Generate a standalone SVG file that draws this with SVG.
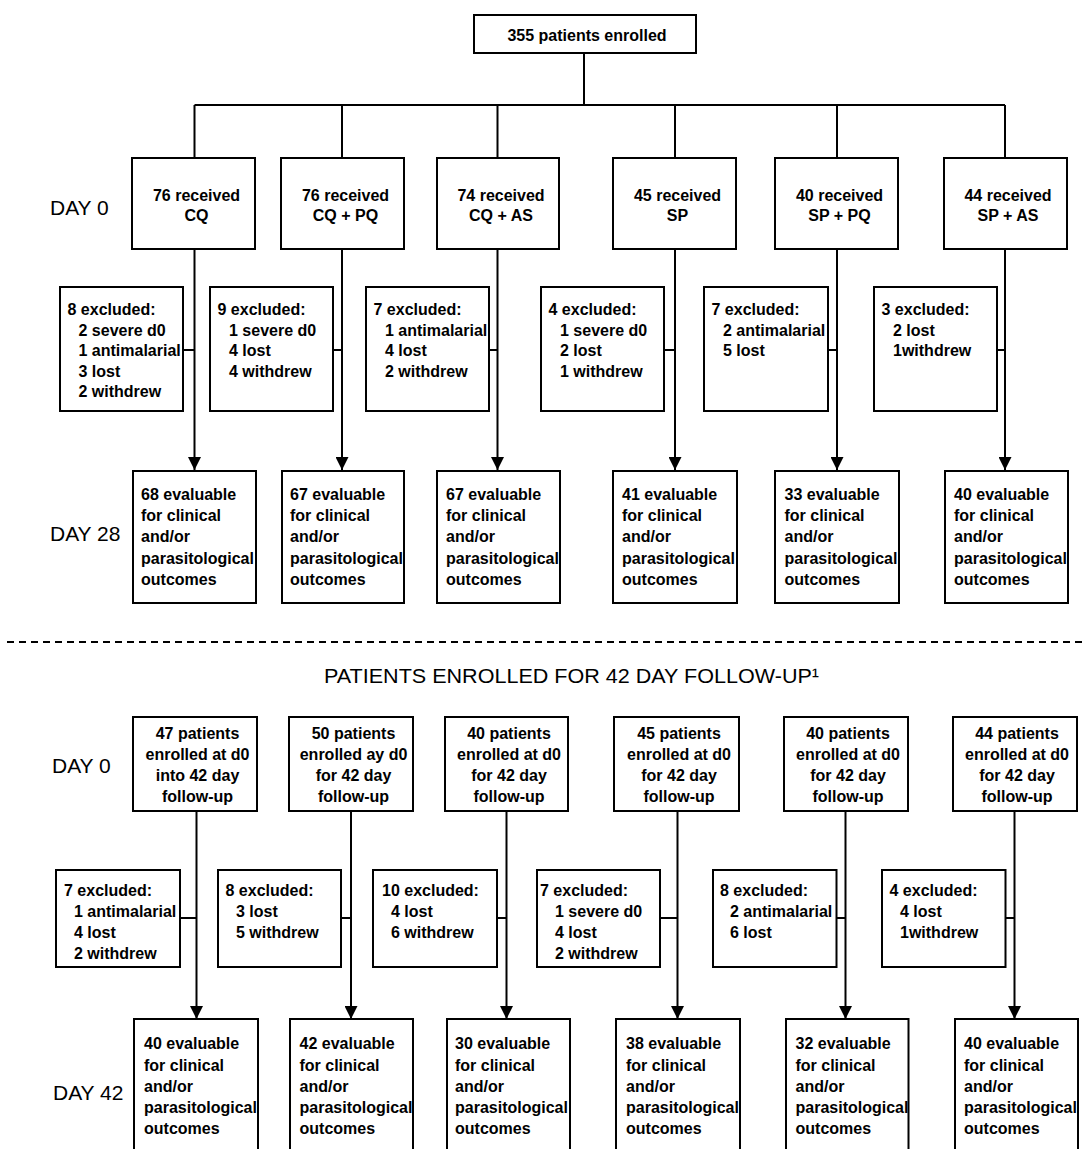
<svg xmlns="http://www.w3.org/2000/svg" width="1082" height="1149" viewBox="0 0 1082 1149">
<style>
.bg{fill:#ffffff}
.box{fill:#ffffff;stroke:#000000;stroke-width:2}
.ln{fill:none;stroke:#000000;stroke-width:2}
.arr{fill:none;stroke:#000000;stroke-width:2;marker-end:url(#ah)}
.dash{fill:none;stroke:#000000;stroke-width:2;stroke-dasharray:7 5}
.t{font-family:"Liberation Sans",Arial,sans-serif;font-size:16px;font-weight:bold;fill:#000000}
.c{text-anchor:middle}
.day{font-family:"Liberation Sans",Arial,sans-serif;font-size:21px;fill:#000000}
</style>
<defs>
<marker id="ah" markerUnits="userSpaceOnUse" markerWidth="13" markerHeight="13" refX="13" refY="6.5" orient="auto">
<path d="M0,0 L13,6.5 L0,13 Z" fill="#000000"/>
</marker>
</defs>
<rect class="bg" x="0" y="0" width="1082" height="1149"/>

<g id="connectors">
<path class="ln" d="M584,53 V105 M194.5,105 H1005 M194.5,105 V158 M342,105 V158 M497.5,105 V158 M675,105 V158 M837,105 V158 M1005,105 V158"/>
<path class="arr" d="M194.5,249 V470"/>
<path class="arr" d="M342,249 V470"/>
<path class="arr" d="M497.5,249 V470"/>
<path class="arr" d="M675,249 V470"/>
<path class="arr" d="M837,249 V470"/>
<path class="arr" d="M1005,249 V470"/>
<path class="ln" d="M183,350 H194.5 M333,350 H342 M489,350 H497.5 M664,350 H675 M828,350 H837 M997,350 H1005"/>
<path class="dash" d="M7,642 H1082"/>
<path class="arr" d="M196.5,811 V1019"/>
<path class="arr" d="M351,811 V1019"/>
<path class="arr" d="M506.5,811 V1019"/>
<path class="arr" d="M677.5,811 V1019"/>
<path class="arr" d="M845.5,811 V1019"/>
<path class="arr" d="M1014.5,811 V1019"/>
<path class="ln" d="M180,918 H196.5 M341,918 H351 M497,918 H506.5 M660,918 H677.5 M836.5,918 H845.5 M1005.5,918 H1014.5"/>
</g>

<g id="labels">
<text class="day" x="50" y="215">DAY 0</text>
<text class="day" x="50" y="541">DAY 28</text>
<text class="day" x="324" y="683" textLength="495" lengthAdjust="spacingAndGlyphs">PATIENTS ENROLLED FOR 42 DAY FOLLOW-UP¹</text>
<text class="day" x="52" y="773">DAY 0</text>
<text class="day" x="53" y="1100">DAY 42</text>
</g>

<g id="n-top">
<rect class="box" x="474" y="15" width="222" height="38"/>
<text class="t c" x="587" y="41">355 patients enrolled</text>
</g>

<!-- upper day 0 -->
<g id="n-u-d0-1"><rect class="box" x="132" y="158" width="123" height="91"/><text class="t c" x="196.5" y="201">76 received</text><text class="t c" x="196.5" y="221">CQ</text></g>
<g id="n-u-d0-2"><rect class="box" x="281" y="158" width="123" height="91"/><text class="t c" x="345.5" y="201">76 received</text><text class="t c" x="345.5" y="221">CQ + PQ</text></g>
<g id="n-u-d0-3"><rect class="box" x="437" y="158" width="122" height="91"/><text class="t c" x="501" y="201">74 received</text><text class="t c" x="501" y="221">CQ + AS</text></g>
<g id="n-u-d0-4"><rect class="box" x="613" y="158" width="123" height="91"/><text class="t c" x="677.5" y="201">45 received</text><text class="t c" x="677.5" y="221">SP</text></g>
<g id="n-u-d0-5"><rect class="box" x="775" y="158" width="123" height="91"/><text class="t c" x="839.5" y="201">40 received</text><text class="t c" x="839.5" y="221">SP + PQ</text></g>
<g id="n-u-d0-6"><rect class="box" x="944" y="158" width="123" height="91"/><text class="t c" x="1008" y="201">44 received</text><text class="t c" x="1008" y="221">SP + AS</text></g>

<!-- upper excluded -->
<g id="n-u-ex-1"><rect class="box" x="60" y="287" width="123" height="124"/>
<text class="t" x="67.5" y="315">8 excluded:</text><text class="t" x="78.5" y="335.5">2 severe d0</text><text class="t" x="78.5" y="356">1 antimalarial</text><text class="t" x="78.5" y="376.5">3 lost</text><text class="t" x="78.5" y="397">2 withdrew</text></g>
<g id="n-u-ex-2"><rect class="box" x="210" y="287" width="123" height="124"/>
<text class="t" x="217.5" y="315">9 excluded:</text><text class="t" x="229" y="335.5">1 severe d0</text><text class="t" x="229" y="356">4 lost</text><text class="t" x="229" y="376.5">4 withdrew</text></g>
<g id="n-u-ex-3"><rect class="box" x="366" y="287" width="123" height="124"/>
<text class="t" x="373.5" y="315">7 excluded:</text><text class="t" x="385" y="335.5">1 antimalarial</text><text class="t" x="385" y="356">4 lost</text><text class="t" x="385" y="376.5">2 withdrew</text></g>
<g id="n-u-ex-4"><rect class="box" x="541" y="287" width="123" height="124"/>
<text class="t" x="548.5" y="315">4 excluded:</text><text class="t" x="560" y="335.5">1 severe d0</text><text class="t" x="560" y="356">2 lost</text><text class="t" x="560" y="376.5">1 withdrew</text></g>
<g id="n-u-ex-5"><rect class="box" x="704" y="287" width="124" height="124"/>
<text class="t" x="711.5" y="315">7 excluded:</text><text class="t" x="723" y="335.5">2 antimalarial</text><text class="t" x="723" y="356">5 lost</text></g>
<g id="n-u-ex-6"><rect class="box" x="874" y="287" width="123" height="124"/>
<text class="t" x="881.5" y="315">3 excluded:</text><text class="t" x="893" y="335.5">2 lost</text><text class="t" x="893" y="356">1withdrew</text></g>

<!-- day 28 -->
<g id="n-d28-1"><rect class="box" x="133" y="471" width="123" height="132"/>
<text class="t" x="141" y="500">68 evaluable</text><text class="t" x="141" y="521">for clinical</text><text class="t" x="141" y="542">and/or</text><text class="t" x="141" y="563.5">parasitological</text><text class="t" x="141" y="585">outcomes</text></g>
<g id="n-d28-2"><rect class="box" x="282" y="471" width="122" height="132"/>
<text class="t" x="290" y="500">67 evaluable</text><text class="t" x="290" y="521">for clinical</text><text class="t" x="290" y="542">and/or</text><text class="t" x="290" y="563.5">parasitological</text><text class="t" x="290" y="585">outcomes</text></g>
<g id="n-d28-3"><rect class="box" x="437" y="471" width="123" height="132"/>
<text class="t" x="446" y="500">67 evaluable</text><text class="t" x="446" y="521">for clinical</text><text class="t" x="446" y="542">and/or</text><text class="t" x="446" y="563.5">parasitological</text><text class="t" x="446" y="585">outcomes</text></g>
<g id="n-d28-4"><rect class="box" x="613" y="471" width="124" height="132"/>
<text class="t" x="622" y="500">41 evaluable</text><text class="t" x="622" y="521">for clinical</text><text class="t" x="622" y="542">and/or</text><text class="t" x="622" y="563.5">parasitological</text><text class="t" x="622" y="585">outcomes</text></g>
<g id="n-d28-5"><rect class="box" x="775" y="471" width="124" height="132"/>
<text class="t" x="784.5" y="500">33 evaluable</text><text class="t" x="784.5" y="521">for clinical</text><text class="t" x="784.5" y="542">and/or</text><text class="t" x="784.5" y="563.5">parasitological</text><text class="t" x="784.5" y="585">outcomes</text></g>
<g id="n-d28-6"><rect class="box" x="945" y="471" width="123" height="132"/>
<text class="t" x="954" y="500">40 evaluable</text><text class="t" x="954" y="521">for clinical</text><text class="t" x="954" y="542">and/or</text><text class="t" x="954" y="563.5">parasitological</text><text class="t" x="954" y="585">outcomes</text></g>

<!-- lower day 0 -->
<g id="n-l-d0-1"><rect class="box" x="133" y="717" width="124" height="94"/>
<text class="t c" x="197.5" y="739">47 patients</text><text class="t c" x="197.5" y="760">enrolled at d0</text><text class="t c" x="197.5" y="781">into 42 day</text><text class="t c" x="197.5" y="802">follow-up</text></g>
<g id="n-l-d0-2"><rect class="box" x="289" y="717" width="124" height="94"/>
<text class="t c" x="353.5" y="739">50 patients</text><text class="t c" x="353.5" y="760">enrolled ay d0</text><text class="t c" x="353.5" y="781">for 42 day</text><text class="t c" x="353.5" y="802">follow-up</text></g>
<g id="n-l-d0-3"><rect class="box" x="445" y="717" width="123" height="94"/>
<text class="t c" x="509" y="739">40 patients</text><text class="t c" x="509" y="760">enrolled at d0</text><text class="t c" x="509" y="781">for 42 day</text><text class="t c" x="509" y="802">follow-up</text></g>
<g id="n-l-d0-4"><rect class="box" x="614" y="717" width="125" height="94"/>
<text class="t c" x="679" y="739">45 patients</text><text class="t c" x="679" y="760">enrolled at d0</text><text class="t c" x="679" y="781">for 42 day</text><text class="t c" x="679" y="802">follow-up</text></g>
<g id="n-l-d0-5"><rect class="box" x="784" y="717" width="124" height="94"/>
<text class="t c" x="848" y="739">40 patients</text><text class="t c" x="848" y="760">enrolled at d0</text><text class="t c" x="848" y="781">for 42 day</text><text class="t c" x="848" y="802">follow-up</text></g>
<g id="n-l-d0-6"><rect class="box" x="953" y="717" width="124" height="94"/>
<text class="t c" x="1017" y="739">44 patients</text><text class="t c" x="1017" y="760">enrolled at d0</text><text class="t c" x="1017" y="781">for 42 day</text><text class="t c" x="1017" y="802">follow-up</text></g>

<!-- lower excluded -->
<g id="n-l-ex-1"><rect class="box" x="56" y="870" width="124" height="97"/>
<text class="t" x="64" y="896">7 excluded:</text><text class="t" x="74" y="917">1 antimalarial</text><text class="t" x="74" y="937.5">4 lost</text><text class="t" x="74" y="958.5">2 withdrew</text></g>
<g id="n-l-ex-2"><rect class="box" x="218" y="870" width="123" height="97"/>
<text class="t" x="225.5" y="896">8 excluded:</text><text class="t" x="236" y="917">3 lost</text><text class="t" x="236" y="937.5">5 withdrew</text></g>
<g id="n-l-ex-3"><rect class="box" x="373" y="870" width="124" height="97"/>
<text class="t" x="382" y="896">10 excluded:</text><text class="t" x="391" y="917">4 lost</text><text class="t" x="391" y="937.5">6 withdrew</text></g>
<g id="n-l-ex-4"><rect class="box" x="537" y="870" width="123" height="97"/>
<text class="t" x="540" y="896">7 excluded:</text><text class="t" x="555" y="917">1 severe d0</text><text class="t" x="555" y="937.5">4 lost</text><text class="t" x="555" y="958.5">2 withdrew</text></g>
<g id="n-l-ex-5"><rect class="box" x="713" y="870" width="123.5" height="97"/>
<text class="t" x="720" y="896">8 excluded:</text><text class="t" x="730" y="917">2 antimalarial</text><text class="t" x="730" y="937.5">6 lost</text></g>
<g id="n-l-ex-6"><rect class="box" x="882" y="870" width="123.5" height="97"/>
<text class="t" x="889.5" y="896">4 excluded:</text><text class="t" x="900" y="917">4 lost</text><text class="t" x="900" y="937.5">1withdrew</text></g>

<!-- day 42 -->
<g id="n-d42-1"><rect class="box" x="134" y="1019" width="124" height="145"/>
<text class="t" x="144" y="1049">40 evaluable</text><text class="t" x="144" y="1070.5">for clinical</text><text class="t" x="144" y="1092">and/or</text><text class="t" x="144" y="1113">parasitological</text><text class="t" x="144" y="1134">outcomes</text></g>
<g id="n-d42-2"><rect class="box" x="290" y="1019" width="123" height="145"/>
<text class="t" x="299.5" y="1049">42 evaluable</text><text class="t" x="299.5" y="1070.5">for clinical</text><text class="t" x="299.5" y="1092">and/or</text><text class="t" x="299.5" y="1113">parasitological</text><text class="t" x="299.5" y="1134">outcomes</text></g>
<g id="n-d42-3"><rect class="box" x="447" y="1019" width="123" height="145"/>
<text class="t" x="455" y="1049">30 evaluable</text><text class="t" x="455" y="1070.5">for clinical</text><text class="t" x="455" y="1092">and/or</text><text class="t" x="455" y="1113">parasitological</text><text class="t" x="455" y="1134">outcomes</text></g>
<g id="n-d42-4"><rect class="box" x="616" y="1019" width="124" height="145"/>
<text class="t" x="626" y="1049">38 evaluable</text><text class="t" x="626" y="1070.5">for clinical</text><text class="t" x="626" y="1092">and/or</text><text class="t" x="626" y="1113">parasitological</text><text class="t" x="626" y="1134">outcomes</text></g>
<g id="n-d42-5"><rect class="box" x="786" y="1019" width="122.5" height="145"/>
<text class="t" x="795.5" y="1049">32 evaluable</text><text class="t" x="795.5" y="1070.5">for clinical</text><text class="t" x="795.5" y="1092">and/or</text><text class="t" x="795.5" y="1113">parasitological</text><text class="t" x="795.5" y="1134">outcomes</text></g>
<g id="n-d42-6"><rect class="box" x="955" y="1019" width="123" height="145"/>
<text class="t" x="964" y="1049">40 evaluable</text><text class="t" x="964" y="1070.5">for clinical</text><text class="t" x="964" y="1092">and/or</text><text class="t" x="964" y="1113">parasitological</text><text class="t" x="964" y="1134">outcomes</text></g>
</svg>
